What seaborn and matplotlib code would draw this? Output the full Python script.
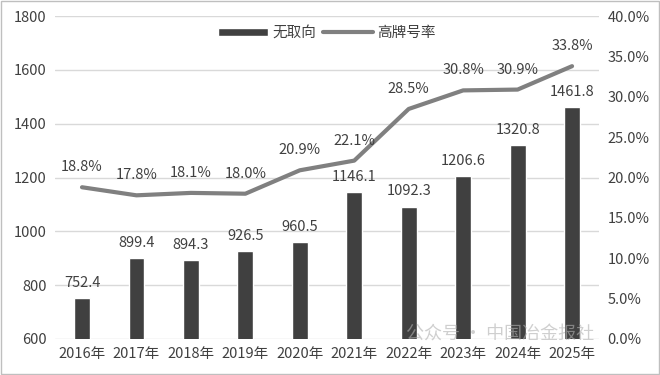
import matplotlib
matplotlib.use("Agg")
import matplotlib.pyplot as plt
import seaborn as sns
import pandas as pd
from matplotlib.patches import Rectangle

# Chart data
years = ["2016年", "2017年", "2018年", "2019年", "2020年",
         "2021年", "2022年", "2023年", "2024年", "2025年"]
output = [752.4, 899.4, 894.3, 926.5, 960.5, 1146.1, 1092.3, 1206.6, 1320.8, 1461.8]
high_grade = [18.8, 17.8, 18.1, 18.0, 20.9, 22.1, 28.5, 30.8, 30.9, 33.8]

sns.set_theme(style="white")
plt.rcParams['font.family'] = ['Noto Sans CJK SC', 'DejaVu Sans']

df = pd.DataFrame({"year": years, "output": output, "rate": high_grade})

fig = plt.figure(figsize=(6.6, 3.75), dpi=100)
ax = fig.add_axes([0.083, 0.096, 0.825, 0.861])
ax2 = ax.twinx()

bar_color = "#404040"
line_color = "#808080"
text_color = "#404040"

sns.barplot(data=df, x="year", y="output", color=bar_color, width=0.29,
            ax=ax, label="无取向", zorder=3)
ax.set_ylim(600, 1800)
ax.set_yticks(range(600, 1801, 200))
ax.yaxis.grid(True, color="#d9d9d9", linewidth=1)
ax.set_axisbelow(True)
ax.set_xlabel("")
ax.set_ylabel("")

for i, v in enumerate(df["output"]):
    ax.text(i, v + 30, f"{v:.1f}", ha="center", va="bottom", fontsize=10.5,
            color=text_color)

sns.lineplot(x=list(range(len(years))), y=df["rate"], ax=ax2, color=line_color,
             linewidth=3, label="高牌号率", legend=False)
ax2.set_ylim(0, 40)
ax2.set_yticks(range(0, 41, 5))
ax2.set_yticklabels([f"{t:.1f}%" for t in range(0, 41, 5)])
ax2.set_ylabel("")
ax2.grid(False)

for i, v in enumerate(df["rate"]):
    ax2.text(i, v + 1.6, f"{v:.1f}%", ha="center", va="bottom", fontsize=10.5,
             color=text_color)

ax.set_xlim(-0.5, len(years) - 0.5)

for a in (ax, ax2):
    for s in a.spines.values():
        s.set_visible(False)
    a.tick_params(axis="both", length=0, labelsize=10.5, colors=text_color, pad=6)
ax.tick_params(axis="x", pad=6)

h1, l1 = ax.get_legend_handles_labels()
h2, l2 = ax2.get_legend_handles_labels()
ax.legend(h1 + h2, l1 + l2, loc="upper center", bbox_to_anchor=(0.5, 1.01),
          ncol=2, frameon=False, fontsize=10.5, handlelength=3.4,
          handleheight=0.5, columnspacing=0.5, handletextpad=0.3,
          labelcolor=text_color)
ax.get_legend().set_zorder(5)

# watermark
fig.text(0.9, 0.108, "公众号 · 中国冶金报社", ha="right", va="center",
         fontsize=13, color="#b0b0b0", alpha=0.6, zorder=10)

# outer border
fig.patches.append(Rectangle((0.002, 0.003), 0.996, 0.994, transform=fig.transFigure,
                             fill=False, edgecolor="#bfbfbf", linewidth=1))

fig.savefig("out.png", dpi=100)
